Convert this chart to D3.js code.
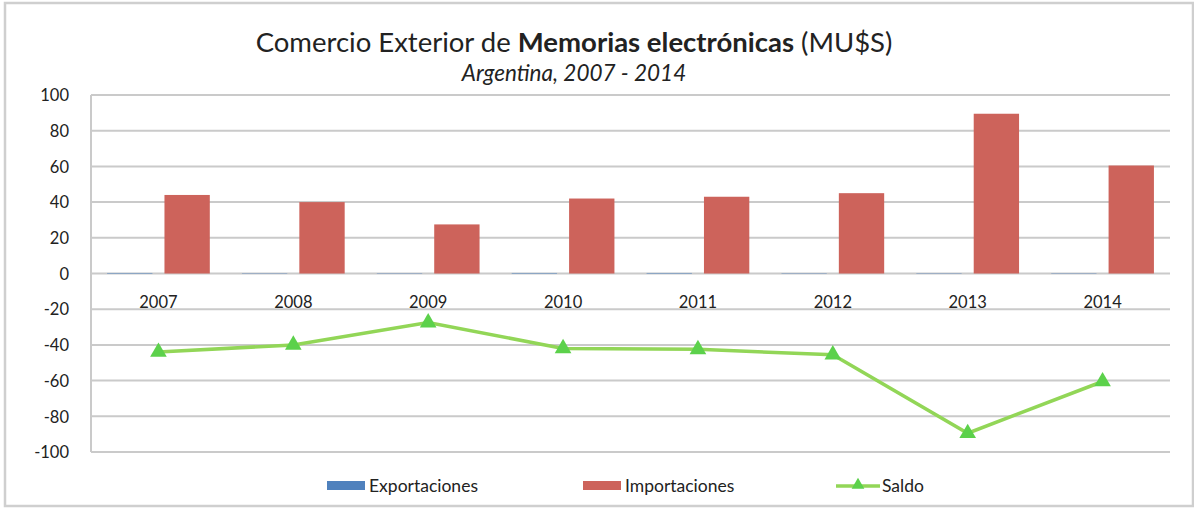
<!DOCTYPE html>
<html>
<head>
<meta charset="utf-8">
<script src="https://cdn.jsdelivr.net/npm/d3@7"></script>
<style>
  body { margin: 0; background: #fff; }
  svg text { font-family: Lato, "Open Sans", sans-serif; fill: #222; }
</style>
</head>
<body>
<div id="chart"></div>
<script>
// Datos
const years = ["2007", "2008", "2009", "2010", "2011", "2012", "2013", "2014"];
const exportaciones = [0.3, 0.2, 0.2, 0.3, 0.3, 0.2, 0.2, 0.2];
const importaciones = [44, 40, 27.5, 42, 43, 45, 89.5, 60.5];
const saldo = [-44, -40, -27.5, -42, -42.5, -45.5, -89.5, -60.5];
const yTicks = [100, 80, 60, 40, 20, 0, -20, -40, -60, -80, -100];

const W = 1194, H = 508;
const margin = { top: 95, right: 24, bottom: 56, left: 91 };

const svg = d3.select("#chart").append("svg")
  .attr("width", W).attr("height", H);

// Marco exterior
svg.append("rect")
  .attr("x", 5).attr("y", 3)
  .attr("width", W - 6).attr("height", H - 5)
  .attr("fill", "none").attr("stroke", "#cfcfcf").attr("stroke-width", 2.5);

const x = d3.scaleBand().domain(years)
  .range([margin.left, W - margin.right]).paddingInner(0).paddingOuter(0);
const y = d3.scaleLinear().domain([-100, 100])
  .range([H - margin.bottom, margin.top]);

// Sub-bandas para las dos barras
const inner = d3.scaleBand().domain(["exp", "imp"])
  .range([0, x.bandwidth()]).paddingInner(0.21).paddingOuter(0.28);

// Grilla
svg.append("g")
  .selectAll("line").data(yTicks).join("line")
  .attr("x1", margin.left).attr("x2", W - margin.right)
  .attr("y1", d => y(d)).attr("y2", d => y(d))
  .attr("stroke", "#cacaca").attr("stroke-width", 2);

svg.append("line")
  .attr("x1", margin.left).attr("x2", margin.left)
  .attr("y1", y(100)).attr("y2", y(-100))
  .attr("stroke", "#cacaca").attr("stroke-width", 2);

// Eje Y
svg.append("g")
  .attr("transform", `translate(${margin.left - 19},0)`)
  .call(d3.axisLeft(y).tickValues(yTicks).tickSize(0).tickFormat(d => String(d)))
  .call(g => g.select(".domain").remove())
  .selectAll("text")
  .style("font-size", "16.5px")
  .style("font-family", "Lato, sans-serif")
  .attr("dy", "0.35em");

// Barras
const groups = svg.append("g").selectAll("g").data(years).join("g")
  .attr("transform", d => `translate(${x(d)},0)`);

groups.append("rect")
  .attr("x", inner("exp")).attr("width", inner.bandwidth())
  .attr("y", (d, i) => y(exportaciones[i]))
  .attr("height", (d, i) => y(0) - y(exportaciones[i]))
  .attr("fill", "#4f81bd");

groups.append("rect")
  .attr("x", inner("imp")).attr("width", inner.bandwidth())
  .attr("y", (d, i) => y(importaciones[i]))
  .attr("height", (d, i) => y(0) - y(importaciones[i]))
  .attr("fill", "#cd635b");

// Eje X (etiquetas de años bajo el cero)
svg.append("g")
  .attr("transform", `translate(0,${y(0)})`)
  .call(d3.axisBottom(x).tickSize(0))
  .call(g => g.select(".domain").remove())
  .selectAll("text")
  .style("font-size", "16.5px")
  .style("font-family", "Lato, sans-serif")
  .attr("y", 34)
  .attr("dy", 0);

// Línea de saldo
const cx = d => x(d) + x.bandwidth() / 2;
const line = d3.line().x((d, i) => cx(years[i])).y(d => y(d));

svg.append("path")
  .datum(saldo)
  .attr("d", line)
  .attr("fill", "none")
  .attr("stroke", "#92d657")
  .attr("stroke-width", 3.5);

const tri = d3.symbol().type(d3.symbolTriangle).size(120);
svg.append("g").selectAll("path").data(saldo).join("path")
  .attr("d", tri)
  .attr("transform", (d, i) => `translate(${cx(years[i])},${y(d)})`)
  .attr("fill", "#5cd14b");

// Títulos
const title = svg.append("text")
  .attr("x", 574).attr("y", 52)
  .attr("text-anchor", "middle")
  .style("font-size", "27.5px");
title.append("tspan").text("Comercio Exterior de ");
title.append("tspan").style("font-weight", "bold").text("Memorias electrónicas");
title.append("tspan").text(" (MU$S)");

svg.append("text")
  .attr("x", 574).attr("y", 81)
  .attr("text-anchor", "middle")
  .style("font-size", "22.5px")
  .style("font-style", "italic")
  .text("Argentina, 2007 - 2014");

// Leyenda
const legend = svg.append("g").attr("transform", "translate(0,486)");
const items = [
  { name: "Exportaciones", color: "#4f81bd", x: 327, type: "rect" },
  { name: "Importaciones", color: "#cd635b", x: 583, type: "rect" },
  { name: "Saldo", color: "#92d657", x: 836, type: "line" }
];
items.forEach(it => {
  if (it.type === "rect") {
    legend.append("rect")
      .attr("x", it.x).attr("y", -5).attr("width", 38).attr("height", 9)
      .attr("fill", it.color);
  } else {
    legend.append("line")
      .attr("x1", it.x).attr("x2", it.x + 44).attr("y1", 0).attr("y2", 0)
      .attr("stroke", it.color).attr("stroke-width", 3.5);
    legend.append("path")
      .attr("d", d3.symbol().type(d3.symbolTriangle).size(70))
      .attr("transform", `translate(${it.x + 22},-1)`)
      .attr("fill", "#5cd14b");
  }
  legend.append("text")
    .attr("x", it.x + (it.type === "rect" ? 42 : 46)).attr("y", 0)
    .attr("dy", "0.35em")
    .style("font-size", "17.5px")
    .text(it.name);
});
</script>
</body>
</html>
